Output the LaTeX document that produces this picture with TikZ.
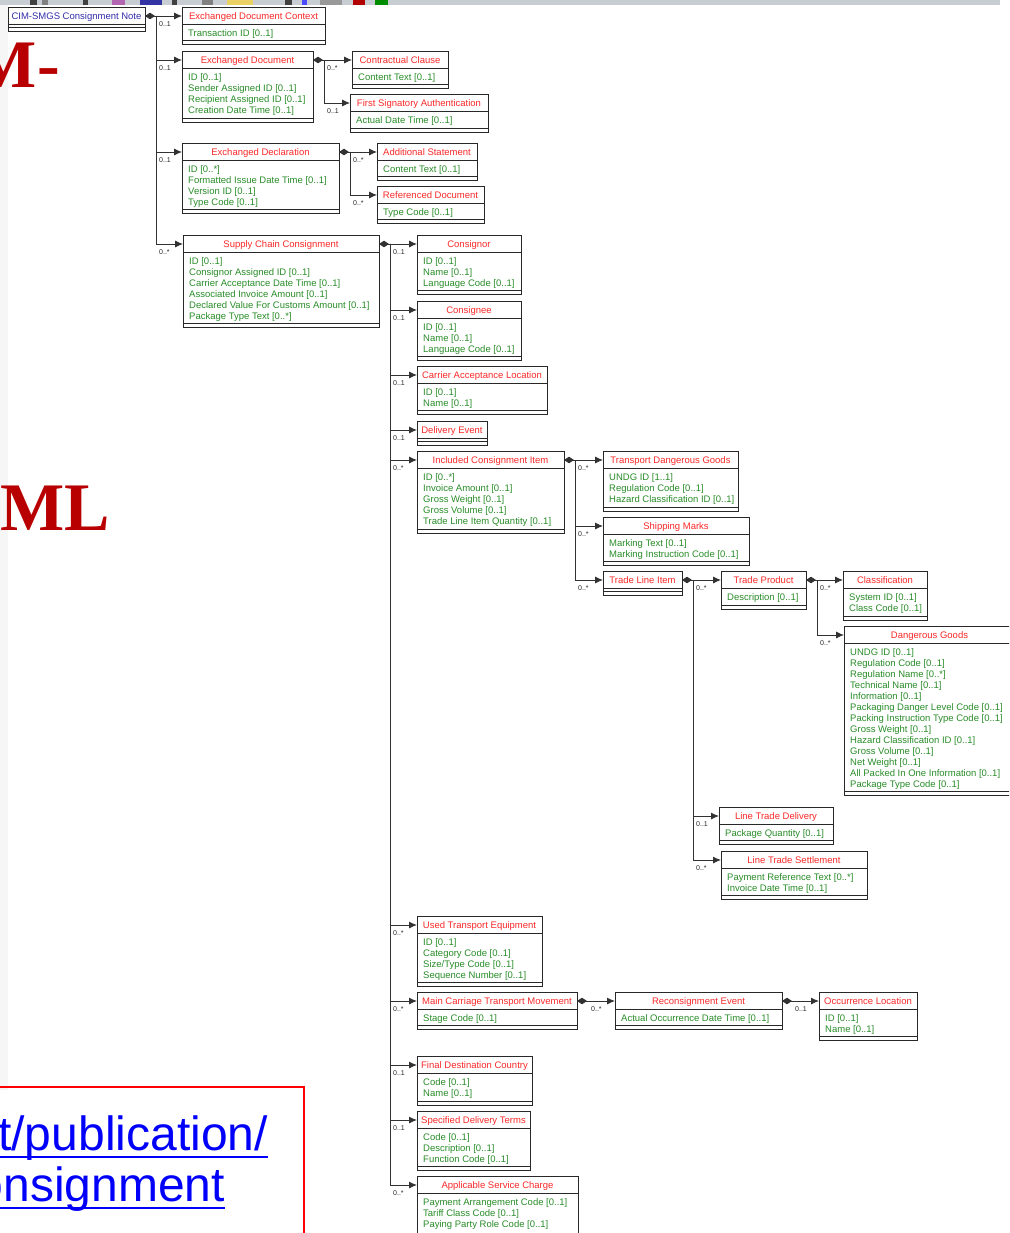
\documentclass[tikz,border=0pt]{standalone}
\usepackage{fontspec}
\usepackage{graphicx}
\setmainfont{Liberation Sans}
\newfontfamily\bigserif{Liberation Serif}
\usetikzlibrary{arrows.meta,calc}

\definecolor{hdr}{RGB}{250,40,40}
\definecolor{att}{RGB}{40,140,40}
\definecolor{rootc}{RGB}{50,45,170}
\definecolor{boxline}{RGB}{40,40,40}
\definecolor{conncol}{RGB}{50,50,50}
\definecolor{bigred}{RGB}{185,0,0}
\definecolor{linkblue}{RGB}{0,0,250}
\definecolor{stripc}{RGB}{200,205,212}

\tikzset{
 umlbox/.style={draw=boxline, line width=0.9pt, fill=white, anchor=north west, inner sep=0pt, outer sep=0pt},
 umltitle/.style={text=hdr, anchor=base, inner sep=0pt, font=\fontsize{9.5}{11}\selectfont},
 umlattr/.style={text=att, anchor=base west, inner sep=0pt, font=\fontsize{9.5}{11}\selectfont},
 mult/.style={text=black!85, anchor=north west, inner sep=0pt, font=\fontsize{7}{8}\selectfont},
 conn/.style={draw=conncol, line width=0.9pt},
 assoc/.style={conn, {Diamond[length=10pt,width=6.5pt]}-{Latex[length=8pt,width=7pt]}},
 branch/.style={conn, -{Latex[length=8pt,width=7pt]}},
 bigtxt/.style={anchor=base east, inner sep=0pt, text=bigred, font=\bigserif\bfseries\fontsize{68}{70}\selectfont},
 linktxt/.style={anchor=base east, inner sep=0pt, text=linkblue, font=\fontsize{48}{54}\selectfont},
}

\newcommand\ubox[7]{%
 \node[umlbox, minimum width=#4pt-#2pt, minimum height=#5pt-#3pt] (#1) at (#2,#3) {};
 \draw[boxline, line width=0.9pt] (#2,#3+17) -- (#4,#3+17);
 \draw[boxline, line width=0.9pt] (#2,#5-3.5) -- (#4,#5-3.5);
 \node[umltitle] (#1-t) at ({(#2+#4)/2},#3+12.5) {#6};
 \coordinate (#1-p) at (#2,#3+9);
 \foreach \a [count=\i] in {#7} {\node[umlattr] (#1-a\i) at (#2+6,{#3+29.5+(\i-1)*11}) {\a};}
}
\newcommand\trunk[2]{\coordinate (#2) at ($(#1.east |- #1-p)+(11,0)$);}
\newcommand\br[3]{\draw[branch] (#1) |- (#2-p); \node[mult] (m-#2) at ($(#1 |- #2-p)+(3,5)$) {#3};}

\begin{document}
\begin{tikzpicture}[x={(1pt,0)}, y={(0,-1pt)}]
\useasboundingbox (0,0) rectangle (1009,1233);
\clip (0,0) rectangle (1009,1233);
\fill[white] (0,0) rectangle (1009,1233);

% screenshot remnants
\fill[stripc] (0,0) rectangle (1000,5);
\foreach \xa/\xb/\c in {30/37/black!75, 42/48/gray, 83/88/black!75, 112/125/violet!60, 140/162/blue!55!black!80, 172/177/black!75, 202/213/gray, 227/253/brown!50!yellow!70, 285/292/black!75, 302/307/blue!70, 320/342/gray!80, 353/365/red!70!black, 375/388/green!55!black}
  \fill[\c] (\xa,0) rectangle (\xb,5);
\fill[gray!7] (0,5) rectangle (8,1090);

\node[bigtxt] (bigA) at (60,88) {CIM-};
\node[bigtxt] (bigB) at (110,530) {XML};

\draw[red, line width=1.5pt] (-5,1087) -- (304,1087) -- (304,1240);
\node[linktxt] (lk1) at (268,1150) {t/publication/};
\node[linktxt] (lk2) at (225,1201) {onsignment};
\draw[linkblue, line width=2.5pt] ($(lk1.base west)+(0,7)$) -- ($(lk1.base east)+(0,7)$);
\draw[linkblue, line width=2.5pt] ($(lk2.base west)+(0,7)$) -- ($(lk2.base east)+(0,7)$);

% boxes
\ubox{cim}{8}{7}{145}{31}{\color{rootc}CIM-SMGS Consignment Note}{}
\ubox{edc}{182}{7}{325}{44}{Exchanged Document Context}{Transaction ID [0..1]}
\ubox{ed}{182}{51}{313}{122}{Exchanged Document}{ID [0..1],Sender Assigned ID [0..1],Recipient Assigned ID [0..1],Creation Date Time [0..1]}
\ubox{cc}{352}{51}{448}{88}{Contractual Clause}{Content Text [0..1]}
\ubox{fsa}{350}{94}{488}{132}{First Signatory Authentication}{Actual Date Time [0..1]}
\ubox{edl}{182}{143}{339}{213}{Exchanged Declaration}{ID [0..*],Formatted Issue Date Time [0..1],Version ID [0..1],Type Code [0..1]}
\ubox{as}{377}{143}{477}{180}{Additional Statement}{Content Text [0..1]}
\ubox{rd}{377}{186}{484}{223}{Referenced Document}{Type Code [0..1]}
\ubox{scc}{183}{235}{379}{327}{Supply Chain Consignment}{ID [0..1],Consignor Assigned ID [0..1],Carrier Acceptance Date Time [0..1],Associated Invoice Amount [0..1],Declared Value For Customs Amount [0..1],Package Type Text [0..*]}
\ubox{cnor}{417}{235}{521}{294}{Consignor}{ID [0..1],Name [0..1],Language Code [0..1]}
\ubox{cnee}{417}{301}{521}{360}{Consignee}{ID [0..1],Name [0..1],Language Code [0..1]}
\ubox{cal}{417}{366}{547}{414}{Carrier Acceptance Location}{ID [0..1],Name [0..1]}
\ubox{de}{417}{421}{487}{445}{Delivery Event}{}
\ubox{ici}{417}{451}{564}{533}{Included Consignment Item}{ID [0..*],Invoice Amount [0..1],Gross Weight [0..1],Gross Volume [0..1],Trade Line Item Quantity [0..1]}
\ubox{tdg}{603}{451}{738}{511}{Transport Dangerous Goods}{UNDG ID [1..1],Regulation Code [0..1],Hazard Classification ID [0..1]}
\ubox{sm}{603}{517}{749}{565}{Shipping Marks}{Marking Text [0..1],Marking Instruction Code [0..1]}
\ubox{tli}{603}{571}{682}{595}{Trade Line Item}{}
\ubox{tp}{721}{571}{806}{609}{Trade Product}{Description [0..1]}
\ubox{cls}{843}{571}{927}{620}{Classification}{System ID [0..1],Class Code [0..1]}
\ubox{dg}{844}{626}{1015}{795}{Dangerous Goods}{UNDG ID [0..1],Regulation Code [0..1],Regulation Name [0..*],Technical Name [0..1],Information [0..1],Packaging Danger Level Code [0..1],Packing Instruction Type Code [0..1],Gross Weight [0..1],Hazard Classification ID [0..1],Gross Volume [0..1],Net Weight [0..1],All Packed In One Information [0..1],Package Type Code [0..1]}
\ubox{ltd}{719}{807}{833}{844}{Line Trade Delivery}{Package Quantity [0..1]}
\ubox{lts}{721}{851}{867}{899}{Line Trade Settlement}{Payment Reference Text [0..*],Invoice Date Time [0..1]}
\ubox{ute}{417}{916}{542}{986}{Used Transport Equipment}{ID [0..1],Category Code [0..1],{Size/Type Code [0..1]},Sequence Number [0..1]}
\ubox{mctm}{417}{992}{577}{1029}{Main Carriage Transport Movement}{Stage Code [0..1]}
\ubox{re}{615}{992}{782}{1029}{Reconsignment Event}{Actual Occurrence Date Time [0..1]}
\ubox{ol}{819}{992}{917}{1040}{Occurrence Location}{ID [0..1],Name [0..1]}
\ubox{fdc}{417}{1056}{532}{1105}{Final Destination Country}{Code [0..1],Name [0..1]}
\ubox{sdt}{417}{1111}{530}{1170}{Specified Delivery Terms}{Code [0..1],Description [0..1],Function Code [0..1]}
\ubox{asc}{417}{1176}{578}{1245}{Applicable Service Charge}{Payment Arrangement Code [0..1],Tariff Class Code [0..1],Paying Party Role Code [0..1]}

% connectors
\trunk{cim}{tr1}
\draw[assoc] (cim.east |- cim-p) -- (edc-p);
\node[mult] (m-edc) at ($(tr1)+(3,5)$) {0..1};
\br{tr1}{ed}{0..1}
\br{tr1}{edl}{0..1}
\br{tr1}{scc}{0..*}

\trunk{ed}{tr2}
\draw[assoc] (ed.east |- ed-p) -- (cc-p);
\node[mult] (m-cc) at ($(tr2)+(3,5)$) {0..*};
\br{tr2}{fsa}{0..1}

\trunk{edl}{tr3}
\draw[assoc] (edl.east |- edl-p) -- (as-p);
\node[mult] (m-as) at ($(tr3)+(3,5)$) {0..*};
\br{tr3}{rd}{0..*}

\trunk{scc}{tr4}
\draw[assoc] (scc.east |- scc-p) -- (cnor-p);
\node[mult] (m-cnor) at ($(tr4)+(3,5)$) {0..1};
\br{tr4}{cnee}{0..1}
\br{tr4}{cal}{0..1}
\br{tr4}{de}{0..1}
\br{tr4}{ici}{0..*}
\br{tr4}{ute}{0..*}
\br{tr4}{mctm}{0..*}
\br{tr4}{fdc}{0..1}
\br{tr4}{sdt}{0..1}
\br{tr4}{asc}{0..*}

\trunk{ici}{tr5}
\draw[assoc] (ici.east |- ici-p) -- (tdg-p);
\node[mult] (m-tdg) at ($(tr5)+(3,5)$) {0..*};
\br{tr5}{sm}{0..*}
\br{tr5}{tli}{0..*}

\trunk{tli}{tr6}
\draw[assoc] (tli.east |- tli-p) -- (tp-p);
\node[mult] (m-tp) at ($(tr6)+(3,5)$) {0..*};
\br{tr6}{ltd}{0..1}
\br{tr6}{lts}{0..*}

\trunk{tp}{tr7}
\draw[assoc] (tp.east |- tp-p) -- (cls-p);
\node[mult] (m-cls) at ($(tr7)+(3,5)$) {0..*};
\br{tr7}{dg}{0..*}

\draw[assoc] (mctm.east |- mctm-p) -- (re-p);
\node[mult] (m-re) at ($(mctm.east |- mctm-p)+(14,5)$) {0..*};
\draw[assoc] (re.east |- re-p) -- (ol-p);
\node[mult] (m-ol) at ($(re.east |- re-p)+(13,5)$) {0..1};
\end{tikzpicture}
\end{document}
